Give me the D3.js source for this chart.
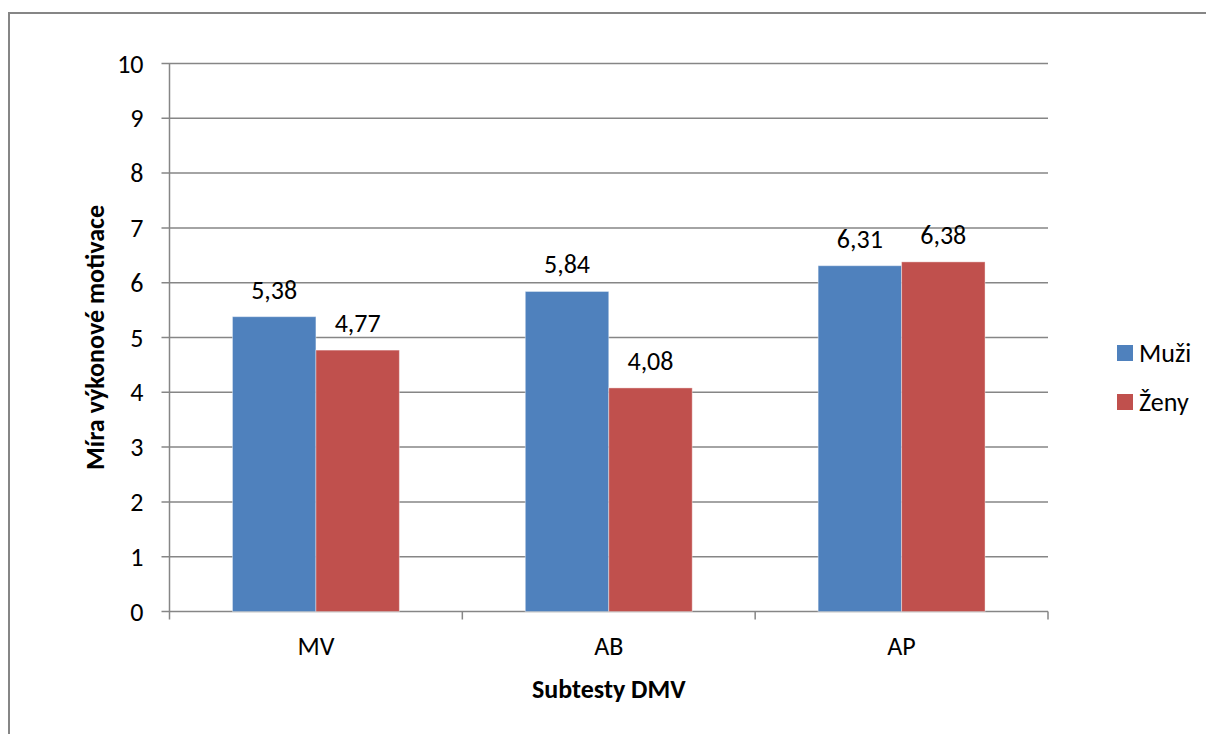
<!DOCTYPE html>
<html>
<head>
<meta charset="utf-8">
<script src="https://cdn.jsdelivr.net/npm/d3@7"></script>
<style>
  body { margin: 0; background: #fff; }
  text { font-family: Carlito, Lato, "Open Sans", sans-serif; fill: #000; }
</style>
</head>
<body>
<div id="chart"></div>
<script>
var categories = ['MV', 'AB', 'AP'];
var seriesNames = ['Muži', 'Ženy'];
var muzi = [5.38, 5.84, 6.31];
var zeny = [4.77, 4.08, 6.38];
var yTicks = [0, 1, 2, 3, 4, 5, 6, 7, 8, 9, 10];
var colors = ['#4F81BD', '#C0504D'];

var W = 1206, H = 734;
var margin = {top: 63.5, right: 158, bottom: 122.5, left: 169.5},
    width = 1048 - margin.left,
    height = 611.5 - margin.top;

var svg = d3.select('#chart').append('svg')
    .attr('width', W).attr('height', H);

// outer frame (cropped on right and bottom)
svg.append('rect')
    .attr('x', 9).attr('y', 13)
    .attr('width', W + 20).attr('height', H + 20)
    .attr('fill', 'none').attr('stroke', '#868686').attr('stroke-width', 2);

var g = svg.append('g')
    .attr('transform', 'translate(' + margin.left + ',' + margin.top + ')');

var y = d3.scaleLinear().domain([0, 10]).range([height, 0]);
var x = d3.scaleBand().domain(categories).range([0, width]);
var xs = d3.scaleBand().domain(seriesNames).range([x.bandwidth() * 0.215, x.bandwidth() * 0.785]);

// gridlines
g.selectAll('.grid').data(yTicks).enter().append('line')
    .attr('x1', -8).attr('x2', width)
    .attr('y1', function(d) { return y(d); })
    .attr('y2', function(d) { return y(d); })
    .attr('stroke', '#868686').attr('stroke-width', 1.5);

// y axis line
g.append('line').attr('x1', 0).attr('x2', 0).attr('y1', 0).attr('y2', height)
    .attr('stroke', '#868686').attr('stroke-width', 1.5);

// x ticks
g.selectAll('.xt').data(d3.range(categories.length + 1)).enter().append('line')
    .attr('x1', function(i) { return i * x.step(); })
    .attr('x2', function(i) { return i * x.step(); })
    .attr('y1', height).attr('y2', height + 8)
    .attr('stroke', '#868686').attr('stroke-width', 1.5);

// y tick labels
g.selectAll('.yl').data(yTicks).enter().append('text')
    .attr('x', -26).attr('y', function(d) { return y(d); })
    .attr('dy', '0.35em').attr('text-anchor', 'end')
    .style('font-size', '26px')
    .text(function(d) { return d; });

// x labels
g.selectAll('.xl').data(categories).enter().append('text')
    .attr('x', function(d) { return x(d) + x.bandwidth() / 2; })
    .attr('y', height + 43).attr('text-anchor', 'middle')
    .style('font-size', '26px')
    .text(function(d) { return d; });

// bars
var series = [muzi, zeny];
series.forEach(function(vals, si) {
  var bars = g.selectAll('.bar' + si).data(vals).enter();
  bars.append('rect')
      .attr('x', function(d, i) { return x(categories[i]) + xs(seriesNames[si]); })
      .attr('y', function(d) { return y(d); })
      .attr('width', xs.bandwidth())
      .attr('height', function(d) { return height - y(d); })
      .attr('fill', colors[si])
      .attr('stroke', '#ffffff').attr('stroke-opacity', 0.4).attr('stroke-width', 1);
  bars.append('text')
      .attr('x', function(d, i) { return x(categories[i]) + xs(seriesNames[si]) + xs.bandwidth() / 2; })
      .attr('y', function(d) { return y(d) - 18; })
      .attr('text-anchor', 'middle')
      .style('font-size', '26px')
      .text(function(d) { return d.toFixed(2).replace('.', ','); });
});

// axis titles
svg.append('text')
    .attr('transform', 'translate(104,' + (margin.top + height / 2) + ') rotate(-90)')
    .attr('text-anchor', 'middle')
    .style('font-size', '26px').style('font-weight', 'bold')
    .text('Míra výkonové motivace');

svg.append('text')
    .attr('x', margin.left + width / 2).attr('y', 698)
    .attr('text-anchor', 'middle')
    .style('font-size', '26px').style('font-weight', 'bold')
    .text('Subtesty DMV');

// legend
var leg = svg.selectAll('.leg').data(seriesNames).enter().append('g')
    .attr('transform', function(d, i) { return 'translate(1117,' + (345 + i * 49) + ')'; });
leg.append('rect').attr('width', 16).attr('height', 16)
    .attr('fill', function(d, i) { return colors[i]; });
leg.append('text').attr('x', 22).attr('y', 8).attr('dy', '0.35em')
    .style('font-size', '26px')
    .text(function(d) { return d; });
</script>
</body>
</html>
